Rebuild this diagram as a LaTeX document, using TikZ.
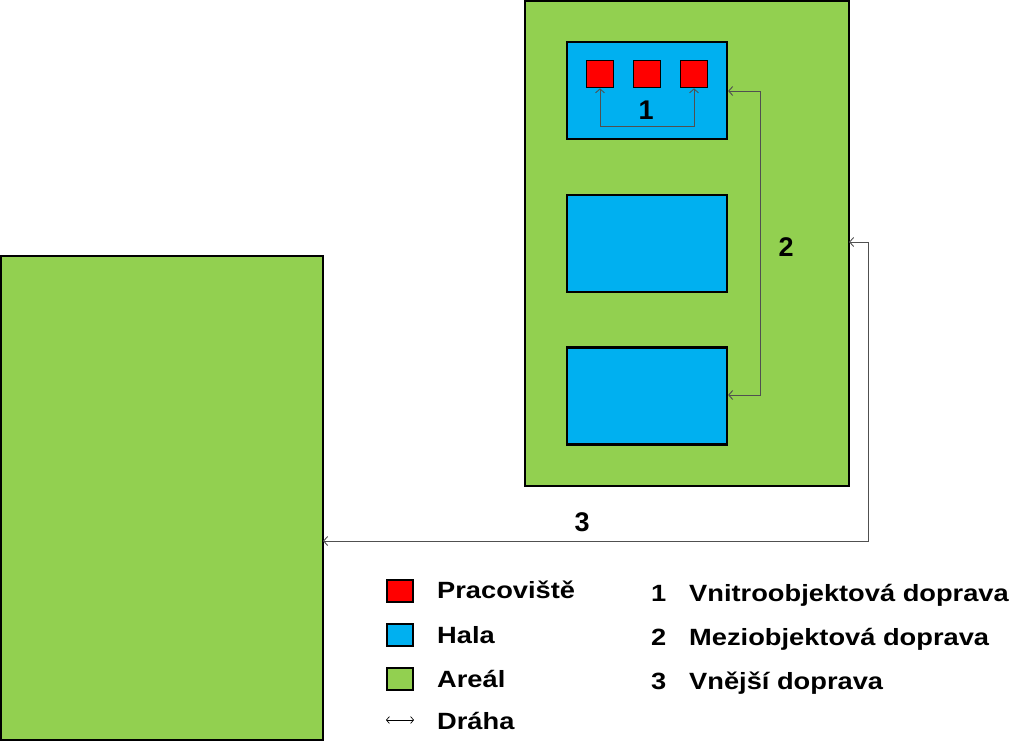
\documentclass[tikz,border=0pt]{standalone}
\usepackage{fontspec}
\setmainfont{Liberation Sans}
\usetikzlibrary{arrows.meta}
\definecolor{areal}{HTML}{92D050}
\definecolor{hala}{HTML}{00B0F0}
\definecolor{prac}{HTML}{FF0000}
\definecolor{path}{HTML}{505050}
\newcommand{\legfont}{\fontsize{23.5}{28}\selectfont\bfseries}
\newcommand{\wide}[1]{\scalebox{1.16}[1]{#1}}
\begin{document}
\begin{tikzpicture}[x=1pt,y=-1pt,
  box/.style={draw=black,line width=2.2pt},
  arealbox/.style={box,fill=areal},
  halabox/.style={box,fill=hala},
  pracbox/.style={draw=black,line width=1.6pt,fill=prac},
  route/.style={draw=path,line width=0.9pt,{Straight Barb[length=4pt,width=9pt]}-{Straight Barb[length=4pt,width=9pt]}},
  lab/.style={font=\fontsize{27}{32}\selectfont\bfseries},
  legtext/.style={font=\legfont,anchor=base west,inner sep=0pt},
  legbox/.style={draw=black,line width=1.8pt,minimum width=26pt,minimum height=22pt,inner sep=0pt}]
\useasboundingbox (0,0) rectangle (1024,753);
% areas
\path[arealbox] (1,256) rectangle (323,740);
\coordinate (A1e) at (323,541);
\path[arealbox] (525,1) rectangle (849,486);
\coordinate (A2e) at (849,242);
% halls
\node[halabox,minimum width=160pt,minimum height=97pt,inner sep=0pt] (H1) at (647,90.5) {};
\node[halabox,minimum width=160pt,minimum height=97pt,inner sep=0pt] (H2) at (647,243.5) {};
\node[halabox,minimum width=160pt,minimum height=97pt,inner sep=0pt] (H3) at (647,396) {};
% workplaces
\node[pracbox,minimum width=27pt,minimum height=27pt,inner sep=0pt] (P1) at (600,74) {};
\node[pracbox,minimum width=27pt,minimum height=27pt,inner sep=0pt] (P2) at (647,74) {};
\node[pracbox,minimum width=27pt,minimum height=27pt,inner sep=0pt] (P3) at (694,74) {};
% routes
\draw[route] (P1.south) -- ++(0,38.5) -| (P3.south);
\draw[route] (H1.east |- 0,91) -- (760,91) |- (H3.east |- 0,395);
\draw[route] (A2e) -- (868,242) |- (A1e);
% route labels
\node[lab] (L1) at (646,110) {1};
\node[lab] (L2) at (786,247) {2};
\node[lab] (L3) at (582,522) {3};
% legend
\node[legbox,fill=prac] (K1) at (400,591) {};
\node[legbox,fill=hala] (K2) at (400,635) {};
\node[legbox,fill=areal] (K3) at (400,679) {};
\coordinate (K4a) at (386,720);
\coordinate (K4b) at (414,720);
\draw[draw=black,line width=0.7pt,{Straight Barb[length=3pt,width=7pt]}-{Straight Barb[length=3pt,width=7pt]}] (K4a) -- (K4b);
\node[legtext] (T1) at (437,598.5) {\wide{Pracoviště}};
\node[legtext] (T2) at (437,643) {\wide{Hala}};
\node[legtext] (T3) at (437,687) {\wide{Areál}};
\node[legtext] (T4) at (437,729) {\wide{Dráha}};
\node[legtext] (N1) at (651,601.5) {\wide{1}};
\node[legtext] (N2) at (651,645) {\wide{2}};
\node[legtext] (N3) at (651,689) {\wide{3}};
\node[legtext] (D1) at (689,601.5) {\wide{Vnitroobjektová doprava}};
\node[legtext] (D2) at (689,645) {\wide{Meziobjektová doprava}};
\node[legtext] (D3) at (689,689) {\wide{Vnější doprava}};
\end{tikzpicture}
\end{document}
